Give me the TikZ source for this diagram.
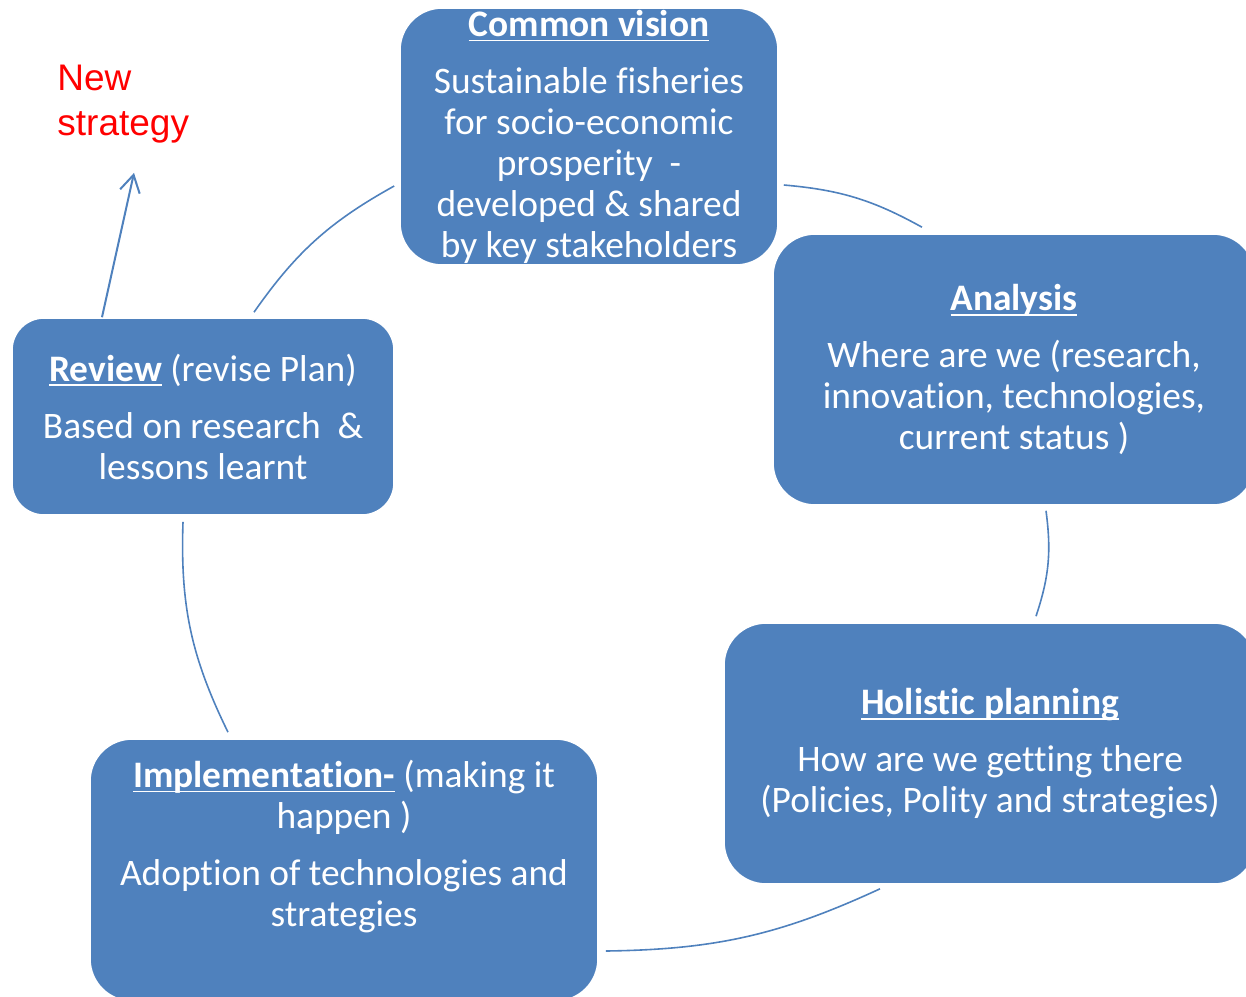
\documentclass[tikz,border=0pt]{standalone}
\usepackage{fontspec}
\setmainfont{Carlito}[Ligatures=NoCommon]
\newfontfamily\arialfont{Liberation Sans}
\usepackage{xcolor}
\definecolor{boxblue}{RGB}{79,129,189}
\definecolor{newred}{RGB}{255,0,0}
\usepackage{tikz}
\usetikzlibrary{arrows.meta,positioning,calc}
\tikzset{
  cy_box/.style={rectangle,rounded corners=21pt,
    draw=white,line width=0.8pt,fill=boxblue,
    text=white,align=center,inner sep=0pt,
    font=\fontsize{18.7}{20.5}\selectfont},
  cy_link/.style={draw=boxblue,line width=0.8pt},
  out_arr/.style={-{Straight Barb[length=8.5pt,width=10pt]},
    draw=boxblue,line width=1pt},
}
% bold heading with a flat underline
\newcommand{\cyhead}[1]{\sbox0{\bfseries #1}\rlap{\rule[-2.6pt]{\wd0}{0.9pt}}\usebox0}

\begin{document}
\begin{tikzpicture}[x=0.5pt,y=-0.5pt]
  \clip (0,0) rectangle (1246,996);
  % the five stages
  \node (vision) [cy_box,minimum width=189pt,minimum height=128.5pt] at (589,136.5)
    {\cyhead{Common vision}\\[8pt]
     Sustainable fisheries\\ for socio-economic\\ prosperity~~-\\
     developed \& shared\\ by key stakeholders};
  \node (analysis) [cy_box,minimum width=241pt,minimum height=135.5pt] at (1014,369.5)
    {\cyhead{Analysis}\\[8pt]
     Where are we (research,\\ innovation, technologies,\\ current status )};
  \node (holistic) [cy_box,minimum width=266pt,minimum height=130.5pt] at (990,753.5)
    {\cyhead{Holistic planning}\\[8pt]
     How are we getting there\\ (Policies, Polity and strategies)};
  \node (impl) [cy_box,minimum width=254pt,minimum height=131pt] at (344,870)
    {\cyhead{Implementation-} (making it\\ happen )\\[8pt]
     Adoption of technologies and\\ strategies\\ \rule[-6.5pt]{0pt}{6.5pt}};
  \node (review) [cy_box,rounded corners=16pt,minimum width=191pt,minimum height=98.5pt] at (203,416.5)
    {\cyhead{Review} (revise Plan)\\[8pt]
     Based on research~~\&\\ lessons learnt};
  \node (newstrat) [anchor=north west,inner sep=0pt,align=left,text=newred,
    font=\arialfont\fontsize{18.5}{22.5}\selectfont] at (57,65) {New\\strategy};

  % links round the cycle
  \draw[cy_link] ($(vision.east)+(5,48.5)$) to[bend left=12] ($(analysis.north)+(-92,-6)$);
  \draw[cy_link] ($(analysis.south)+(32,5)$) to[bend left=13] ($(holistic.north)+(46,-6)$);
  \draw[cy_link] ($(holistic.south)+(-110,4)$) to[bend left=12] ($(impl.east)+(7,81)$);
  \draw[cy_link] ($(impl.north)+(-116,-6)$) to[bend left=14] ($(review.south)+(-20,6)$);
  \draw[cy_link] ($(review.north)+(51,-5)$) to[bend left=13] ($(vision.west)+(-5,49.5)$);
  \draw[out_arr] ($(review.north)+(-101,0)$) -- ($(newstrat.south west)+(77,29)$);
\end{tikzpicture}
\end{document}
